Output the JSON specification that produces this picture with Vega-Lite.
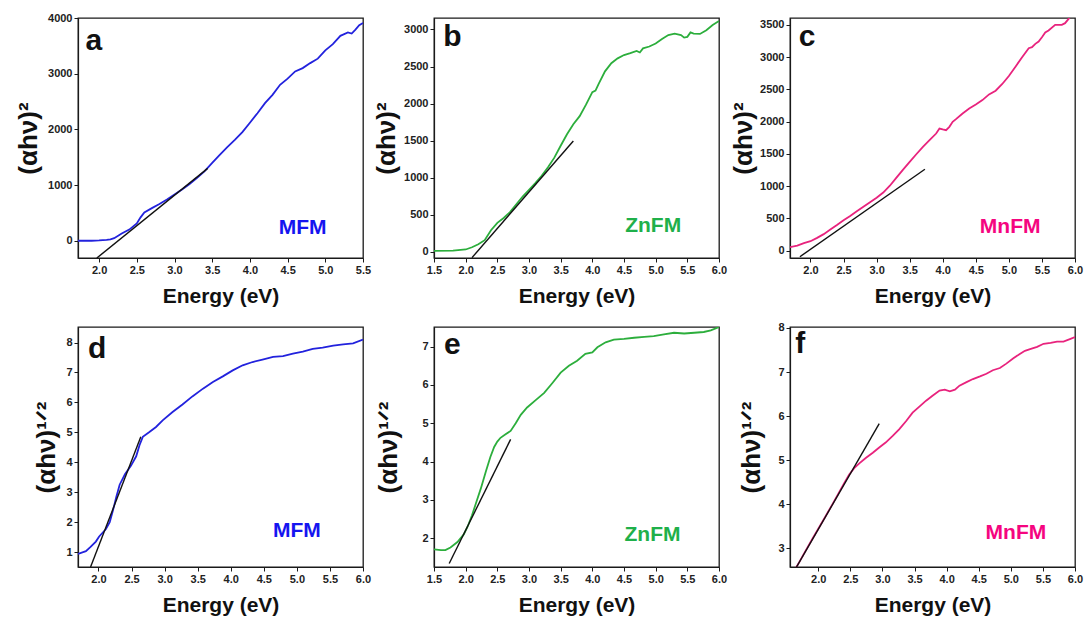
{
  "$schema": "https://vega.github.io/schema/vega-lite/v6.json",
  "background": "white",
  "padding": {"left": 14, "top": 11, "right": 4, "bottom": 4},
  "bounds": "flush",
  "columns": 3,
  "spacing": {"row": 69, "column": 71},
  "config": {
    "font": "Liberation Sans",
    "view": {"stroke": "#1a1a1a", "strokeWidth": 1.3},
    "axis": {
      "grid": false,
      "labelFont": "Liberation Sans",
      "labelFontWeight": "bold",
      "labelFontSize": 11,
      "labelColor": "#222222",
      "labelFlush": false,
      "labelOverlap": false,
      "labelPadding": 2,
      "tickColor": "#1a1a1a",
      "tickSize": 4,
      "domainColor": "#1a1a1a",
      "domainWidth": 1.2,
      "titleFont": "Liberation Sans",
      "titleFontWeight": "bold",
      "titleColor": "#111111"
    },
    "axisX": {"titleFontSize": 21, "titlePadding": 10, "format": ".1f"},
    "axisY": {"titleFontSize": 26, "format": "d"}
  },
  "datasets": {
    "a_curve": [
      {"e": 1.72, "v": 0}, {"e": 1.9, "v": 0}, {"e": 2.0, "v": 5}, {"e": 2.1, "v": 15}, {"e": 2.15, "v": 25},
      {"e": 2.2, "v": 45}, {"e": 2.3, "v": 130}, {"e": 2.4, "v": 200}, {"e": 2.5, "v": 310}, {"e": 2.55, "v": 420},
      {"e": 2.6, "v": 510}, {"e": 2.7, "v": 585}, {"e": 2.8, "v": 660}, {"e": 2.9, "v": 740}, {"e": 3.0, "v": 830},
      {"e": 3.1, "v": 920}, {"e": 3.2, "v": 1020}, {"e": 3.3, "v": 1130}, {"e": 3.4, "v": 1250}, {"e": 3.5, "v": 1400},
      {"e": 3.6, "v": 1540}, {"e": 3.7, "v": 1680}, {"e": 3.8, "v": 1810}, {"e": 3.9, "v": 1950}, {"e": 4.0, "v": 2120},
      {"e": 4.1, "v": 2290}, {"e": 4.2, "v": 2470}, {"e": 4.3, "v": 2620}, {"e": 4.4, "v": 2800}, {"e": 4.5, "v": 2910},
      {"e": 4.6, "v": 3040}, {"e": 4.7, "v": 3100}, {"e": 4.8, "v": 3190}, {"e": 4.9, "v": 3270}, {"e": 5.0, "v": 3420},
      {"e": 5.1, "v": 3530}, {"e": 5.2, "v": 3680}, {"e": 5.3, "v": 3740}, {"e": 5.35, "v": 3720}, {"e": 5.4, "v": 3790},
      {"e": 5.45, "v": 3870}, {"e": 5.5, "v": 3910}
    ],
    "a_fit": [{"e": 1.97, "v": -310}, {"e": 3.44, "v": 1300}],
    "a_text": [{"e": 1.93, "v": 3590, "label": "a", "kind": "letter"}, {"e": 4.7, "v": 224, "label": "MFM", "kind": "name"}],
    "b_curve": [
      {"e": 1.5, "v": 10}, {"e": 1.8, "v": 15}, {"e": 2.0, "v": 30}, {"e": 2.1, "v": 60}, {"e": 2.2, "v": 100},
      {"e": 2.3, "v": 155}, {"e": 2.4, "v": 290}, {"e": 2.5, "v": 390}, {"e": 2.6, "v": 455}, {"e": 2.7, "v": 535},
      {"e": 2.8, "v": 640}, {"e": 2.9, "v": 745}, {"e": 3.0, "v": 835}, {"e": 3.1, "v": 925}, {"e": 3.2, "v": 1025},
      {"e": 3.3, "v": 1140}, {"e": 3.4, "v": 1270}, {"e": 3.5, "v": 1430}, {"e": 3.6, "v": 1585}, {"e": 3.7, "v": 1720},
      {"e": 3.8, "v": 1830}, {"e": 3.9, "v": 1985}, {"e": 4.0, "v": 2155}, {"e": 4.05, "v": 2175}, {"e": 4.1, "v": 2265},
      {"e": 4.2, "v": 2435}, {"e": 4.3, "v": 2545}, {"e": 4.4, "v": 2610}, {"e": 4.5, "v": 2655}, {"e": 4.6, "v": 2680},
      {"e": 4.7, "v": 2710}, {"e": 4.75, "v": 2690}, {"e": 4.8, "v": 2745}, {"e": 4.9, "v": 2770}, {"e": 5.0, "v": 2810},
      {"e": 5.1, "v": 2870}, {"e": 5.2, "v": 2925}, {"e": 5.3, "v": 2945}, {"e": 5.4, "v": 2925}, {"e": 5.45, "v": 2890},
      {"e": 5.5, "v": 2900}, {"e": 5.55, "v": 2960}, {"e": 5.6, "v": 2945}, {"e": 5.7, "v": 2940}, {"e": 5.8, "v": 2990},
      {"e": 5.9, "v": 3060}, {"e": 6.0, "v": 3115}
    ],
    "b_fit": [{"e": 2.1, "v": -80}, {"e": 3.7, "v": 1495}],
    "b_text": [{"e": 1.79, "v": 2900, "label": "b", "kind": "letter"}, {"e": 4.96, "v": 344, "label": "ZnFM", "kind": "name"}],
    "c_curve": [
      {"e": 1.69, "v": 52}, {"e": 1.8, "v": 78}, {"e": 1.9, "v": 114}, {"e": 2.0, "v": 145}, {"e": 2.1, "v": 197},
      {"e": 2.2, "v": 255}, {"e": 2.3, "v": 325}, {"e": 2.4, "v": 395}, {"e": 2.5, "v": 470}, {"e": 2.6, "v": 535},
      {"e": 2.7, "v": 610}, {"e": 2.8, "v": 680}, {"e": 2.9, "v": 750}, {"e": 3.0, "v": 820}, {"e": 3.1, "v": 900},
      {"e": 3.2, "v": 1005}, {"e": 3.3, "v": 1130}, {"e": 3.4, "v": 1255}, {"e": 3.5, "v": 1374}, {"e": 3.6, "v": 1493},
      {"e": 3.7, "v": 1607}, {"e": 3.8, "v": 1711}, {"e": 3.9, "v": 1814}, {"e": 3.95, "v": 1892}, {"e": 4.0, "v": 1877},
      {"e": 4.05, "v": 1866}, {"e": 4.1, "v": 1918}, {"e": 4.15, "v": 1996}, {"e": 4.2, "v": 2037}, {"e": 4.3, "v": 2125},
      {"e": 4.4, "v": 2203}, {"e": 4.5, "v": 2265}, {"e": 4.6, "v": 2333}, {"e": 4.7, "v": 2421}, {"e": 4.8, "v": 2478},
      {"e": 4.9, "v": 2582}, {"e": 5.0, "v": 2706}, {"e": 5.1, "v": 2851}, {"e": 5.2, "v": 2996}, {"e": 5.3, "v": 3136},
      {"e": 5.35, "v": 3152}, {"e": 5.4, "v": 3204}, {"e": 5.45, "v": 3240}, {"e": 5.5, "v": 3307}, {"e": 5.55, "v": 3380},
      {"e": 5.6, "v": 3411}, {"e": 5.7, "v": 3499}, {"e": 5.8, "v": 3499}, {"e": 5.85, "v": 3525}, {"e": 5.9, "v": 3587},
      {"e": 5.93, "v": 3629}
    ],
    "c_fit": [{"e": 1.84, "v": -95}, {"e": 3.73, "v": 1260}],
    "c_text": [{"e": 1.95, "v": 3318, "label": "c", "kind": "letter"}, {"e": 5.02, "v": 363, "label": "MnFM", "kind": "name"}],
    "d_curve": [
      {"e": 1.69, "v": 0.94}, {"e": 1.81, "v": 1.03}, {"e": 1.88, "v": 1.17}, {"e": 1.96, "v": 1.35}, {"e": 2.01, "v": 1.52},
      {"e": 2.11, "v": 1.76}, {"e": 2.17, "v": 2.0}, {"e": 2.22, "v": 2.4}, {"e": 2.27, "v": 2.85}, {"e": 2.32, "v": 3.25},
      {"e": 2.4, "v": 3.6}, {"e": 2.49, "v": 3.88}, {"e": 2.57, "v": 4.2}, {"e": 2.62, "v": 4.57}, {"e": 2.67, "v": 4.85},
      {"e": 2.77, "v": 5.01}, {"e": 2.87, "v": 5.18}, {"e": 2.97, "v": 5.4}, {"e": 3.12, "v": 5.68}, {"e": 3.27, "v": 5.93},
      {"e": 3.42, "v": 6.2}, {"e": 3.58, "v": 6.46}, {"e": 3.73, "v": 6.68}, {"e": 3.88, "v": 6.87}, {"e": 4.03, "v": 7.07},
      {"e": 4.18, "v": 7.24}, {"e": 4.33, "v": 7.35}, {"e": 4.48, "v": 7.43}, {"e": 4.64, "v": 7.52}, {"e": 4.79, "v": 7.55},
      {"e": 4.94, "v": 7.63}, {"e": 5.09, "v": 7.7}, {"e": 5.24, "v": 7.79}, {"e": 5.39, "v": 7.83}, {"e": 5.55, "v": 7.9},
      {"e": 5.7, "v": 7.94}, {"e": 5.85, "v": 7.97}, {"e": 6.0, "v": 8.1}
    ],
    "d_fit": [{"e": 1.88, "v": 0.5}, {"e": 2.64, "v": 4.85}],
    "d_text": [{"e": 1.98, "v": 7.8, "label": "d", "kind": "letter"}, {"e": 5.0, "v": 1.7, "label": "MFM", "kind": "name"}],
    "e_curve": [
      {"e": 1.5, "v": 1.71}, {"e": 1.61, "v": 1.69}, {"e": 1.68, "v": 1.69}, {"e": 1.76, "v": 1.76}, {"e": 1.87, "v": 1.9},
      {"e": 1.97, "v": 2.1}, {"e": 2.03, "v": 2.3}, {"e": 2.1, "v": 2.6}, {"e": 2.17, "v": 2.95}, {"e": 2.24, "v": 3.3},
      {"e": 2.32, "v": 3.75}, {"e": 2.39, "v": 4.12}, {"e": 2.45, "v": 4.38}, {"e": 2.5, "v": 4.52}, {"e": 2.55, "v": 4.62},
      {"e": 2.63, "v": 4.71}, {"e": 2.71, "v": 4.8}, {"e": 2.79, "v": 5.0}, {"e": 2.87, "v": 5.22}, {"e": 2.97, "v": 5.41},
      {"e": 3.11, "v": 5.61}, {"e": 3.24, "v": 5.79}, {"e": 3.37, "v": 6.05}, {"e": 3.5, "v": 6.32}, {"e": 3.63, "v": 6.5},
      {"e": 3.76, "v": 6.63}, {"e": 3.89, "v": 6.81}, {"e": 4.0, "v": 6.85}, {"e": 4.08, "v": 6.98}, {"e": 4.21, "v": 7.11},
      {"e": 4.34, "v": 7.18}, {"e": 4.5, "v": 7.2}, {"e": 4.66, "v": 7.23}, {"e": 4.82, "v": 7.25}, {"e": 4.97, "v": 7.27},
      {"e": 5.13, "v": 7.32}, {"e": 5.29, "v": 7.36}, {"e": 5.45, "v": 7.34}, {"e": 5.61, "v": 7.36}, {"e": 5.76, "v": 7.38},
      {"e": 5.87, "v": 7.42}, {"e": 6.0, "v": 7.51}
    ],
    "e_fit": [{"e": 1.74, "v": 1.34}, {"e": 2.71, "v": 4.58}],
    "e_text": [{"e": 1.79, "v": 7.03, "label": "e", "kind": "letter"}, {"e": 4.95, "v": 2.09, "label": "ZnFM", "kind": "name"}],
    "f_curve": [
      {"e": 1.64, "v": 2.53}, {"e": 1.7, "v": 2.68}, {"e": 1.8, "v": 2.94}, {"e": 1.91, "v": 3.22}, {"e": 2.01, "v": 3.47},
      {"e": 2.11, "v": 3.72}, {"e": 2.22, "v": 4.0}, {"e": 2.32, "v": 4.26}, {"e": 2.4, "v": 4.47}, {"e": 2.48, "v": 4.67},
      {"e": 2.56, "v": 4.82}, {"e": 2.64, "v": 4.93}, {"e": 2.74, "v": 5.05}, {"e": 2.85, "v": 5.17}, {"e": 2.95, "v": 5.29},
      {"e": 3.05, "v": 5.4}, {"e": 3.16, "v": 5.55}, {"e": 3.26, "v": 5.7}, {"e": 3.37, "v": 5.89}, {"e": 3.47, "v": 6.08},
      {"e": 3.58, "v": 6.22}, {"e": 3.68, "v": 6.35}, {"e": 3.78, "v": 6.46}, {"e": 3.89, "v": 6.58}, {"e": 3.97, "v": 6.6},
      {"e": 4.05, "v": 6.56}, {"e": 4.13, "v": 6.6}, {"e": 4.2, "v": 6.69}, {"e": 4.31, "v": 6.77}, {"e": 4.41, "v": 6.84},
      {"e": 4.52, "v": 6.9}, {"e": 4.62, "v": 6.96}, {"e": 4.72, "v": 7.04}, {"e": 4.83, "v": 7.09}, {"e": 4.93, "v": 7.19},
      {"e": 5.04, "v": 7.31}, {"e": 5.14, "v": 7.41}, {"e": 5.22, "v": 7.48}, {"e": 5.3, "v": 7.52}, {"e": 5.41, "v": 7.57},
      {"e": 5.51, "v": 7.64}, {"e": 5.62, "v": 7.66}, {"e": 5.72, "v": 7.69}, {"e": 5.82, "v": 7.69}, {"e": 5.93, "v": 7.75},
      {"e": 6.0, "v": 7.79}
    ],
    "f_fit": [{"e": 1.65, "v": 2.55}, {"e": 2.95, "v": 5.83}],
    "f_text": [{"e": 1.72, "v": 7.64, "label": "f", "kind": "letter"}, {"e": 5.08, "v": 3.35, "label": "MnFM", "kind": "name"}]
  },
  "concat": [
    {
      "width": 285, "height": 240,
      "encoding": {
        "x": {"field": "e", "type": "quantitative", "scale": {"domain": [1.72, 5.5], "nice": false, "zero": false},
              "axis": {"title": "Energy (eV)", "values": [2.0, 2.5, 3.0, 3.5, 4.0, 4.5, 5.0, 5.5]}},
        "y": {"field": "v", "type": "quantitative", "scale": {"domain": [-310, 4000], "nice": false, "zero": false},
              "axis": {"title": "(αhν)²", "values": [0, 1000, 2000, 3000, 4000], "titlePadding": 6}}
      },
      "layer": [
        {"data": {"name": "a_curve"}, "mark": {"type": "line", "color": "#2222dd", "strokeWidth": 1.8, "clip": true}},
        {"data": {"name": "a_fit"}, "mark": {"type": "line", "color": "#111111", "strokeWidth": 1.4, "clip": true}},
        {"data": {"name": "a_text"}, "transform": [{"filter": "datum.kind == 'letter'"}],
         "mark": {"type": "text", "fontSize": 30, "fontWeight": "bold", "color": "#111111", "align": "center", "baseline": "middle"},
         "encoding": {"text": {"field": "label"}}},
        {"data": {"name": "a_text"}, "transform": [{"filter": "datum.kind == 'name'"}],
         "mark": {"type": "text", "fontSize": 21, "fontWeight": "bold", "color": "#1515f0", "align": "center", "baseline": "middle"},
         "encoding": {"text": {"field": "label"}}}
      ]
    },
    {
      "width": 285, "height": 240,
      "encoding": {
        "x": {"field": "e", "type": "quantitative", "scale": {"domain": [1.5, 6.0], "nice": false, "zero": false},
              "axis": {"title": "Energy (eV)", "values": [1.5, 2.0, 2.5, 3.0, 3.5, 4.0, 4.5, 5.0, 5.5, 6.0]}},
        "y": {"field": "v", "type": "quantitative", "scale": {"domain": [-85, 3155], "nice": false, "zero": false},
              "axis": {"title": "(αhν)²", "values": [0, 500, 1000, 1500, 2000, 2500, 3000], "titlePadding": 4}}
      },
      "layer": [
        {"data": {"name": "b_curve"}, "mark": {"type": "line", "color": "#2cae3c", "strokeWidth": 1.8, "clip": true}},
        {"data": {"name": "b_fit"}, "mark": {"type": "line", "color": "#111111", "strokeWidth": 1.4, "clip": true}},
        {"data": {"name": "b_text"}, "transform": [{"filter": "datum.kind == 'letter'"}],
         "mark": {"type": "text", "fontSize": 30, "fontWeight": "bold", "color": "#111111", "align": "center", "baseline": "middle"},
         "encoding": {"text": {"field": "label"}}},
        {"data": {"name": "b_text"}, "transform": [{"filter": "datum.kind == 'name'"}],
         "mark": {"type": "text", "fontSize": 21, "fontWeight": "bold", "color": "#1fb04a", "align": "center", "baseline": "middle"},
         "encoding": {"text": {"field": "label"}}}
      ]
    },
    {
      "width": 285, "height": 240,
      "encoding": {
        "x": {"field": "e", "type": "quantitative", "scale": {"domain": [1.69, 6.0], "nice": false, "zero": false},
              "axis": {"title": "Energy (eV)", "values": [2.0, 2.5, 3.0, 3.5, 4.0, 4.5, 5.0, 5.5, 6.0]}},
        "y": {"field": "v", "type": "quantitative", "scale": {"domain": [-115, 3605], "nice": false, "zero": false},
              "axis": {"title": "(αhν)²", "values": [0, 500, 1000, 1500, 2000, 2500, 3000, 3500], "titlePadding": 3}}
      },
      "layer": [
        {"data": {"name": "c_curve"}, "mark": {"type": "line", "color": "#e8237d", "strokeWidth": 1.8, "clip": true}},
        {"data": {"name": "c_fit"}, "mark": {"type": "line", "color": "#111111", "strokeWidth": 1.4, "clip": true}},
        {"data": {"name": "c_text"}, "transform": [{"filter": "datum.kind == 'letter'"}],
         "mark": {"type": "text", "fontSize": 30, "fontWeight": "bold", "color": "#111111", "align": "center", "baseline": "middle"},
         "encoding": {"text": {"field": "label"}}},
        {"data": {"name": "c_text"}, "transform": [{"filter": "datum.kind == 'name'"}],
         "mark": {"type": "text", "fontSize": 21, "fontWeight": "bold", "color": "#f5057f", "align": "center", "baseline": "middle"},
         "encoding": {"text": {"field": "label"}}}
      ]
    },
    {
      "width": 285, "height": 240,
      "encoding": {
        "x": {"field": "e", "type": "quantitative", "scale": {"domain": [1.69, 6.0], "nice": false, "zero": false},
              "axis": {"title": "Energy (eV)", "values": [2.0, 2.5, 3.0, 3.5, 4.0, 4.5, 5.0, 5.5, 6.0]}},
        "y": {"field": "v", "type": "quantitative", "scale": {"domain": [0.5, 8.52], "nice": false, "zero": false},
              "axis": {"title": "(αhν)¹ᐟ²", "values": [1, 2, 3, 4, 5, 6, 7, 8], "titlePadding": 6}}
      },
      "layer": [
        {"data": {"name": "d_curve"}, "mark": {"type": "line", "color": "#2222dd", "strokeWidth": 1.8, "clip": true}},
        {"data": {"name": "d_fit"}, "mark": {"type": "line", "color": "#111111", "strokeWidth": 1.4, "clip": true}},
        {"data": {"name": "d_text"}, "transform": [{"filter": "datum.kind == 'letter'"}],
         "mark": {"type": "text", "fontSize": 30, "fontWeight": "bold", "color": "#111111", "align": "center", "baseline": "middle"},
         "encoding": {"text": {"field": "label"}}},
        {"data": {"name": "d_text"}, "transform": [{"filter": "datum.kind == 'name'"}],
         "mark": {"type": "text", "fontSize": 21, "fontWeight": "bold", "color": "#1515f0", "align": "center", "baseline": "middle"},
         "encoding": {"text": {"field": "label"}}}
      ]
    },
    {
      "width": 285, "height": 240,
      "encoding": {
        "x": {"field": "e", "type": "quantitative", "scale": {"domain": [1.5, 6.0], "nice": false, "zero": false},
              "axis": {"title": "Energy (eV)", "values": [1.5, 2.0, 2.5, 3.0, 3.5, 4.0, 4.5, 5.0, 5.5, 6.0]}},
        "y": {"field": "v", "type": "quantitative", "scale": {"domain": [1.25, 7.51], "nice": false, "zero": false},
              "axis": {"title": "(αhν)¹ᐟ²", "values": [2, 3, 4, 5, 6, 7], "titlePadding": 20}}
      },
      "layer": [
        {"data": {"name": "e_curve"}, "mark": {"type": "line", "color": "#2cae3c", "strokeWidth": 1.8, "clip": true}},
        {"data": {"name": "e_fit"}, "mark": {"type": "line", "color": "#111111", "strokeWidth": 1.4, "clip": true}},
        {"data": {"name": "e_text"}, "transform": [{"filter": "datum.kind == 'letter'"}],
         "mark": {"type": "text", "fontSize": 30, "fontWeight": "bold", "color": "#111111", "align": "center", "baseline": "middle"},
         "encoding": {"text": {"field": "label"}}},
        {"data": {"name": "e_text"}, "transform": [{"filter": "datum.kind == 'name'"}],
         "mark": {"type": "text", "fontSize": 21, "fontWeight": "bold", "color": "#1fb04a", "align": "center", "baseline": "middle"},
         "encoding": {"text": {"field": "label"}}}
      ]
    },
    {
      "width": 285, "height": 240,
      "encoding": {
        "x": {"field": "e", "type": "quantitative", "scale": {"domain": [1.56, 6.0], "nice": false, "zero": false},
              "axis": {"title": "Energy (eV)", "values": [2.0, 2.5, 3.0, 3.5, 4.0, 4.5, 5.0, 5.5, 6.0]}},
        "y": {"field": "v", "type": "quantitative", "scale": {"domain": [2.58, 8.02], "nice": false, "zero": false},
              "axis": {"title": "(αhν)¹ᐟ²", "values": [3, 4, 5, 6, 7, 8], "titlePadding": 13}}
      },
      "layer": [
        {"data": {"name": "f_curve"}, "mark": {"type": "line", "color": "#e8237d", "strokeWidth": 1.8, "clip": true}},
        {"data": {"name": "f_fit"}, "mark": {"type": "line", "color": "#111111", "strokeWidth": 1.4, "clip": true}},
        {"data": {"name": "f_text"}, "transform": [{"filter": "datum.kind == 'letter'"}],
         "mark": {"type": "text", "fontSize": 30, "fontWeight": "bold", "color": "#111111", "align": "center", "baseline": "middle"},
         "encoding": {"text": {"field": "label"}}},
        {"data": {"name": "f_text"}, "transform": [{"filter": "datum.kind == 'name'"}],
         "mark": {"type": "text", "fontSize": 21, "fontWeight": "bold", "color": "#f5057f", "align": "center", "baseline": "middle"},
         "encoding": {"text": {"field": "label"}}}
      ]
    }
  ]
}
